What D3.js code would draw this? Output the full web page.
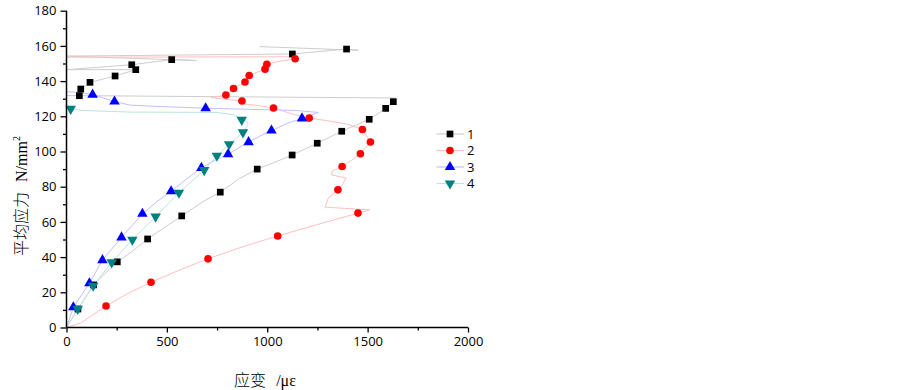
<!DOCTYPE html>
<html><head><meta charset="utf-8">
<script src="https://cdn.jsdelivr.net/npm/d3@7"></script>
<style>body{margin:0;background:#fff}svg{display:block}</style>
</head><body>
<svg id="c" width="903" height="390"></svg>
<script>
const xTicks = [0, 500, 1000, 1500, 2000];
const yTicks = [0, 20, 40, 60, 80, 100, 120, 140, 160, 180];
const seriesNames = ["1", "2", "3", "4"];
const yTitle = "平均应力";
const yUnit = "N/mm";
const xTitle = "应变";
const xUnit = "/με";

const s1Markers = [[57,10.5],[135,24.2],[253,37.3],[404,50.3],[574,63.4],[766,76.9],[950,90.0],[1124,98.0],[1249,104.7],[1371,111.5],[1508,118.3],[1590,124.5],[1628,128.3],[64,131.7],[71,135.5],[117,139.3],[242,142.9],[345,146.5],[325,149.3],[524,152.2],[1125,155.4],[1395,158.2]];
const s1Path = [[0,0],[57,10.5],[135,24.2],[190,30.5],[253,37.3],[330,43.5],[404,50.3],[490,57],[574,63.4],[680,71.5],[766,76.9],[860,84.5],[950,90],[1040,94],[1124,98],[1249,104.7],[1371,111.5],[1508,118.3],[1590,124.5],[1628,128.3],[1640,130.4],[0,131.8],[64,131.7],[71,135.5],[117,139.3],[242,142.9],[345,146.5],[0,146.5],[325,149.3],[524,152.2],[648,151.7],[0,154.2],[1125,155.4],[1395,158.2],[1455,157.5],[960,159.6]];

const s2Markers = [[197,12.2],[421,25.7],[705,39.0],[1052,52.0],[1452,65.0],[1352,78.2],[1373,91.5],[1464,98.7],[1514,105.4],[1474,112.5],[1209,119.0],[1031,124.7],[874,128.7],[794,132.1],[832,135.8],[889,139.5],[910,143.2],[989,146.8],[998,149.6],[1139,152.7]];
const s2Path = [[0,0],[70,2.5],[197,12.2],[300,19],[421,25.7],[560,32.5],[705,39],[880,46],[1052,52],[1250,58.5],[1452,65],[1510,66.8],[1288,68.4],[1304,73.5],[1352,78.2],[1379,82],[1392,84.9],[1321,86.7],[1321,88.6],[1373,91.5],[1420,95],[1464,98.7],[1514,105.4],[1490,109.5],[1474,112.5],[1400,115.5],[1300,117.5],[1209,119],[1120,121.5],[1031,124.7],[960,126],[880,127],[874,128.7],[720,130.6],[794,132.1],[832,135.8],[889,139.5],[910,143.2],[989,146.8],[998,149.6],[1050,151],[1139,152.7],[1100,153.8],[0,153.6]];

const s3Markers = [[34,11.5],[114,25.1],[179,38.3],[274,51.2],[378,64.6],[521,77.4],[672,90.7],[805,98.5],[907,105.3],[1021,111.9],[1173,118.8],[693,124.6],[239,128.4],[130,132.3]];
const s3Path = [[0,0],[34,11.5],[114,25.1],[179,38.3],[274,51.2],[378,64.6],[450,71.5],[521,77.4],[600,84.5],[672,90.7],[740,95],[805,98.5],[907,105.3],[960,108.5],[1021,111.9],[1100,116],[1173,118.8],[1254,122.2],[1146,123.3],[900,124],[693,124.6],[480,125.5],[320,126.3],[239,128.4],[180,130.5],[130,132.3],[60,133.6],[0,134]];

const s4Markers = [[56,10.6],[133,23.7],[225,37.0],[328,49.9],[444,63.0],[560,76.6],[686,89.4],[749,97.6],[810,104.1],[879,110.9],[873,118.0],[21,124.2]];
const s4Path = [[0,0],[56,10.6],[133,23.7],[225,37],[328,49.9],[444,63],[560,76.6],[686,89.4],[749,97.6],[810,104.1],[879,110.9],[905,115.2],[897,117.2],[873,118],[831,120.9],[748,122.2],[316,122.4],[84,123.3],[21,124.2]];

const svg = d3.select("#c");
const x = d3.scaleLinear().domain([0, 2000]).range([66.5, 468]);
const y = d3.scaleLinear().domain([0, 180]).range([327.5, 10.7]);

const series = [
  {name: seriesNames[0], path: s1Path, markers: s1Markers, line: "#cdcdcd", color: "#000000", sym: d3.symbolSquare, size: 45, rot: 0},
  {name: seriesNames[1], path: s2Path, markers: s2Markers, line: "#ffc0c0", color: "#ff0000", sym: d3.symbolCircle, size: 46, rot: 0},
  {name: seriesNames[2], path: s3Path, markers: s3Markers, line: "#c0c0ff", color: "#0000ff", sym: d3.symbolTriangle, size: 48, rot: 0},
  {name: seriesNames[3], path: s4Path, markers: s4Markers, line: "#bde3df", color: "#008080", sym: d3.symbolTriangle, size: 48, rot: 180}
];

const line = d3.line().x(d => x(d[0])).y(d => y(d[1]));
const g = svg.append("g");
series.forEach(s => {
  g.append("path").attr("d", line(s.path)).attr("fill", "none")
    .attr("stroke", s.line).attr("stroke-width", 1);
});
series.forEach(s => {
  g.selectAll(null).data(s.markers).join("path")
    .attr("d", d3.symbol().type(s.sym).size(s.size))
    .attr("transform", d => `translate(${x(d[0])},${y(d[1])}) rotate(${s.rot})`)
    .attr("fill", s.color);
});

// axes
const fontNum = "'Open Sans', 'Liberation Sans', sans-serif";
const xAxis = d3.axisBottom(x).tickValues(xTicks).tickSize(5).tickPadding(4).tickFormat(d3.format("d"));
const xMinor = d3.axisBottom(x).tickValues(d3.range(250, 2000, 500)).tickSize(3).tickFormat("");
const yAxis = d3.axisLeft(y).tickValues(yTicks).tickSize(6).tickPadding(4).tickFormat(d3.format("d"));
const yMinor = d3.axisLeft(y).tickValues(d3.range(10, 180, 20)).tickSize(3.5).tickFormat("");

function style(sel) {
  sel.select(".domain").attr("stroke", "#000").attr("stroke-width", 1.5);
  sel.selectAll(".tick line").attr("stroke", "#000").attr("stroke-width", 1.3);
  sel.selectAll(".tick text").attr("fill", "#000").style("font-family", fontNum).style("font-size", "13px");
}
const gx = svg.append("g").attr("transform", `translate(0,${y(0)})`).call(xAxis).call(style);
svg.append("g").attr("transform", `translate(0,${y(0)})`).call(xMinor).call(style).select(".domain").remove();
const gy = svg.append("g").attr("transform", `translate(${x(0)},0)`).call(yAxis).call(style);
svg.append("g").attr("transform", `translate(${x(0)},0)`).call(yMinor).call(style).select(".domain").remove();
gy.select(".domain").attr("d", `M0,${y(180)}V${y(0)}`);
gx.select(".domain").attr("d", `M${x(0)},0H${x(2000)}`);

// titles
const cjk = "'Noto Sans CJK SC', sans-serif";
const yt = svg.append("text")
  .attr("transform", `translate(27,${196}) rotate(-90)`)
  .attr("text-anchor", "middle").attr("fill", "#000").style("font-size", "16px");
yt.append("tspan").text(yTitle).style("font-family", cjk).style("font-weight", 300);
yt.append("tspan").text("\u00a0" + yUnit).style("font-family", "'Liberation Serif', serif").attr("dx", 6);
yt.append("tspan").text("2").style("font-family", "'Liberation Serif', serif").style("font-size", "10px").attr("dy", -7);

const xt = svg.append("text").attr("x", 265).attr("y", 386)
  .attr("text-anchor", "middle").attr("fill", "#000").style("font-size", "16px");
xt.append("tspan").text(xTitle).style("font-family", cjk).style("font-weight", 300);
xt.append("tspan").text(xUnit).style("font-family", "'Liberation Serif', serif").attr("dx", 10);

// legend
const lg = svg.append("g");
const rowY = d3.scaleLinear().domain([0, 3]).range([134, 183.5]);
series.forEach((s, i) => {
  const cy = rowY(i);
  lg.append("line").attr("x1", 436.5).attr("x2", 464).attr("y1", cy).attr("y2", cy)
    .attr("stroke", s.line).attr("stroke-width", 1.2);
  lg.append("path").attr("d", d3.symbol().type(s.sym).size(s.size))
    .attr("transform", `translate(450,${cy}) rotate(${s.rot})`).attr("fill", s.color);
  lg.append("text").attr("x", 467).attr("y", cy + 4.5).text(s.name)
    .attr("fill", "#000").style("font-family", fontNum).style("font-size", "13px");
});
</script>
</body></html>
